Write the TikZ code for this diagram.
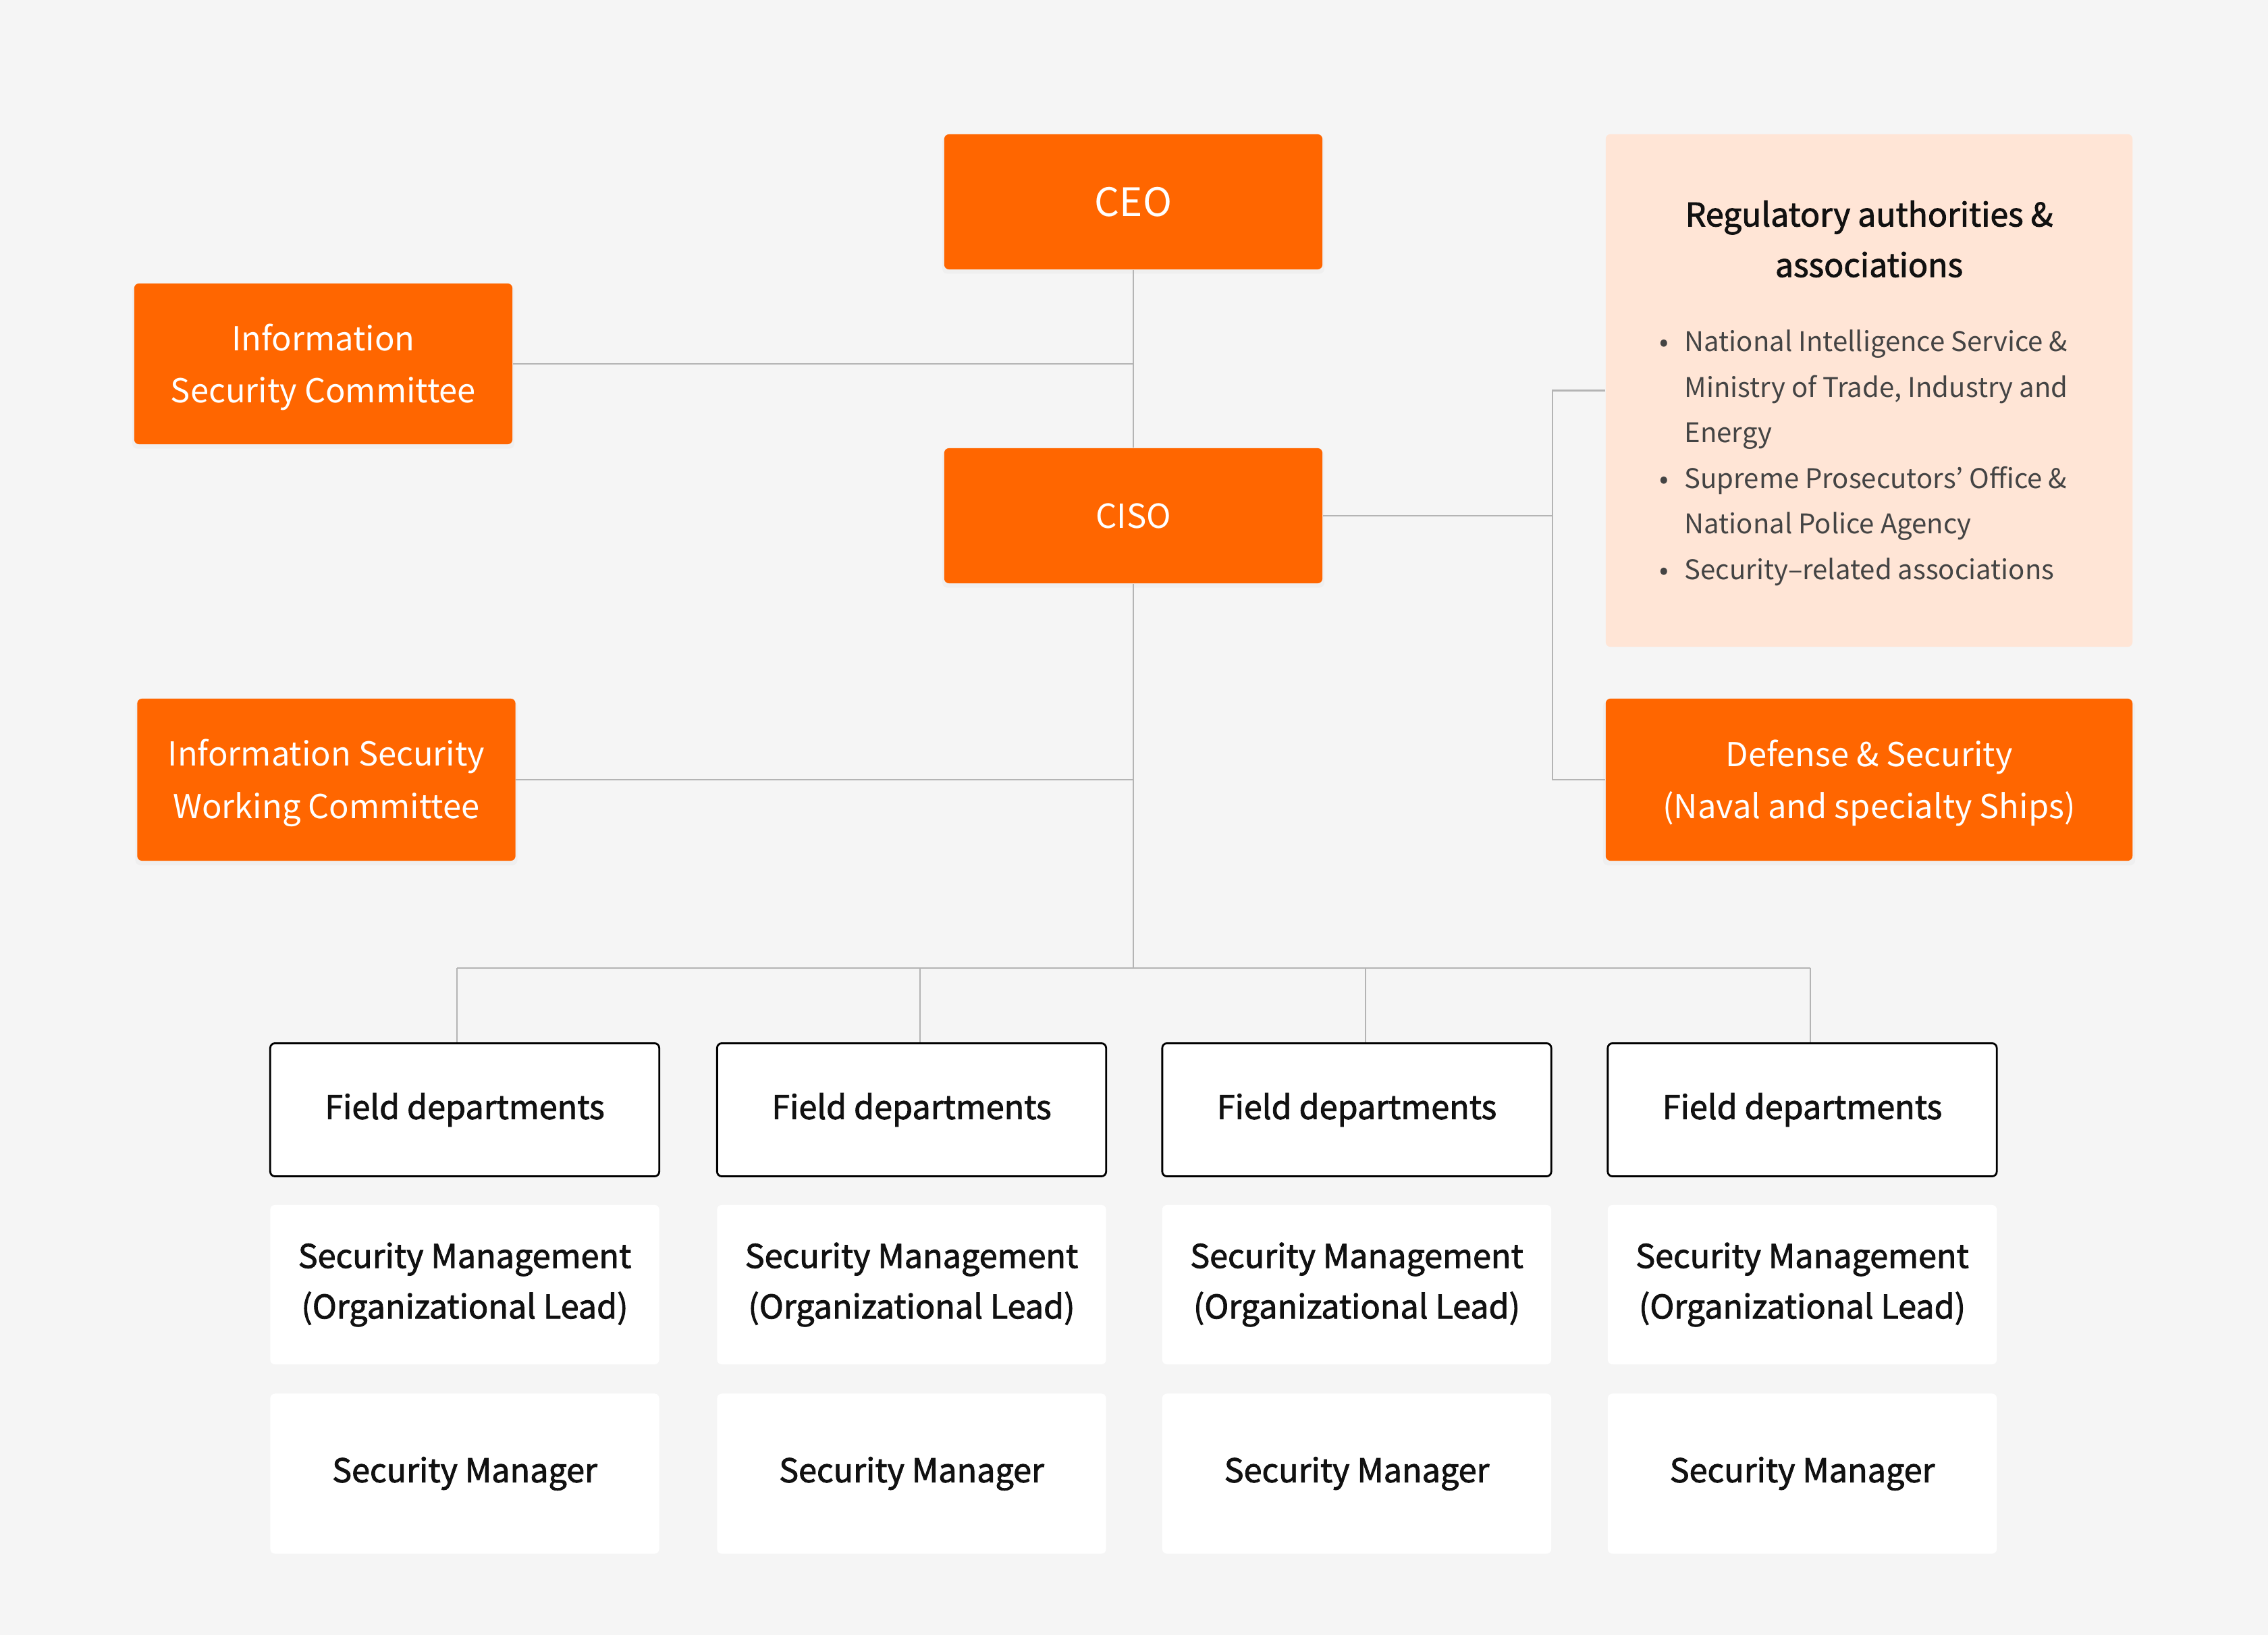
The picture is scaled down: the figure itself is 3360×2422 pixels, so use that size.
\documentclass[tikz,border=0pt]{standalone}
\usepackage{fontspec}
\setmainfont{Noto Sans CJK KR}
\newfontfamily\medfont[FakeBold=1.8]{Noto Sans CJK KR}
\usetikzlibrary{shadows}
\definecolor{bgC}{HTML}{F5F5F5}
\definecolor{orC}{HTML}{FF6600}
\definecolor{peachC}{HTML}{FFE5D6}
\definecolor{lineC}{HTML}{B4B4B4}
\definecolor{txtC}{HTML}{111111}
\definecolor{bulC}{HTML}{444444}
\newcommand{\lowstrut}{\rule{0pt}{14pt}}
\begin{document}
\begin{tikzpicture}[x=0.01cm,y=-0.01cm,
  obox/.style={fill=orC, rounded corners=2pt, text=white, align=center, inner sep=0pt,
    font=\fontsize{13.9}{21.9}\selectfont,
    drop shadow={shadow xshift=0pt, shadow yshift=-1.5pt, shadow scale=1.01, opacity=0.05}},
  pbox/.style={fill=peachC, rounded corners=2pt, inner sep=0pt},
  ttl/.style={text=txtC, align=center, inner sep=0pt, font=\medfont\fontsize{13.7}{21.3}\selectfont},
  bul/.style={text=bulC, inner sep=0pt, anchor=base west, font=\fontsize{11.4}{19.2}\selectfont},
  fbox/.style={fill=white, draw=black, line width=0.8pt, rounded corners=2pt, inner sep=0pt,
    minimum width=5.76cm, minimum height=1.97cm, text=txtC, align=center,
    font=\medfont\fontsize{13.8}{21.3}\selectfont},
  wbox/.style={fill=white, rounded corners=2pt, inner sep=0pt,
    minimum width=5.76cm, text=txtC, align=center,
    font=\medfont\fontsize{13.8}{21.3}\selectfont},
  conn/.style={draw=lineC, line width=0.6pt}]
\fill[bgC] (0,0) rectangle (3360,2422);
\useasboundingbox (0,0) rectangle (3360,2422);

% top boxes
\node[obox, minimum width=5.6cm, minimum height=2cm, font=\fontsize{16.5}{21.9}\selectfont] (ceo) at (1679,299) {CEO};
\node[obox, minimum width=5.6cm, minimum height=2cm, font=\fontsize{14}{21.9}\selectfont] (ciso) at (1679,764) {CISO};
\node[obox, minimum width=5.6cm, minimum height=2.38cm] (isc) at (479,539) {\lowstrut Information\\Security Committee};
\node[obox, minimum width=5.6cm, minimum height=2.4cm] (iswc) at (483.5,1155) {\lowstrut Information Security\\Working Committee};
\node[pbox, minimum width=7.8cm, minimum height=7.59cm] (reg) at (2769,578.5) {};
\node[obox, minimum width=7.8cm, minimum height=2.4cm] (def) at (2769,1155) {\lowstrut Defense \& Security\\(Naval and specialty Ships)};

% regulatory texts
\node[ttl] (regt) at (2769,354) {Regulatory authorities \&\\associations};
\node[bul] (b1a) at (2458,521) {\makebox[10.5pt][l]{•}National Intelligence Service \&};
\node[bul] (b1b) at (2458,589) {\hspace*{10.5pt}Ministry of Trade, Industry and};
\node[bul] (b1c) at (2458,656) {\hspace*{10.5pt}Energy};
\node[bul] (b2a) at (2458,724) {\makebox[10.5pt][l]{•}Supreme Prosecutors’ Office \&};
\node[bul] (b2b) at (2458,791) {\hspace*{10.5pt}National Police Agency};
\node[bul] (b3a) at (2458,859) {\makebox[10.5pt][l]{•}Security–related associations};

% bottom grid
\coordinate (busL) at (677,1434);
\coordinate (busR) at (2682,1434);
\foreach \x/\i/\dx in {688.5/1/677, 1350.5/2/1363, 2010/3/2023, 2670/4/2682} {
  \node[fbox] (f\i) at (\x,1644) {Field departments};
  \node[wbox, minimum height=2.36cm] (m\i) at (\x,1903) {Security Management\\(Organizational Lead)};
  \node[wbox, minimum height=2.37cm] (s\i) at (\x,2183) {Security Manager};
  \coordinate (d\i) at (\dx,1434);
  \draw[conn] (d\i) -- (d\i |- f\i.north);
}

% connectors
\coordinate (bx) at (2300,765);
\draw[conn] (ceo.south) -- (ciso.north);
\draw[conn] (isc.east) -- (isc.east -| ceo.south);
\draw[conn] (iswc.east) -- (iswc.east -| ciso.south);
\draw[conn] (ciso.south) -- (ciso.south |- busL);
\draw[conn, line width=0.8pt] (busL) -- (busR);
\draw[conn] (ciso.east) -- (ciso.east -| bx);
\draw[conn] (reg.west) -- (reg.west -| bx) -- (def.west -| bx) -- (def.west);
\end{tikzpicture}
\end{document}
